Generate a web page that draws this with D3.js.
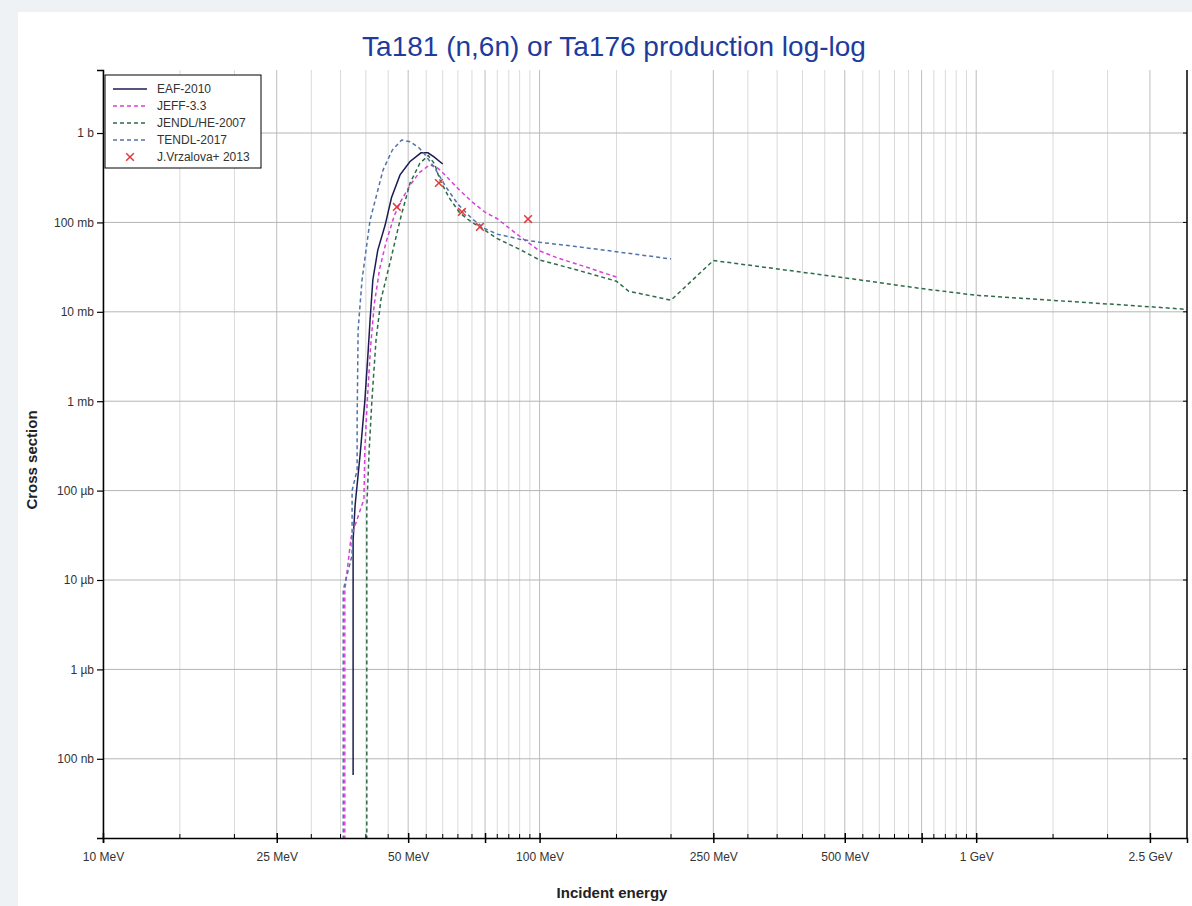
<!DOCTYPE html>
<html>
<head>
<meta charset="utf-8">
<script src="https://cdn.jsdelivr.net/npm/d3@7"></script>
<style>
  body { margin: 0; background: #eef2f5; }
  svg { display: block; font-family: "Liberation Sans", Arial, sans-serif; }
  .axis .tick text { font-size: 12px; fill: #333; }
  .axis-title { font-size: 15px; font-weight: bold; fill: #222; }
  .legend text { font-size: 12px; fill: #333; }
</style>
</head>
<body>
<div id="chart"></div>
<script>
// energies in MeV, cross sections in barn
const eaf2010 = [[37.4,6.6e-8],[37.4,2.8e-5],[37.8,6.9e-5],[38.8,2.5e-4],[39.8,1.03e-3],[40.5,3.7e-3],[40.9,8.1e-3],[41.5,0.0227],[42.6,0.049],[44.3,0.094],[45.8,0.19],[47.9,0.34],[50.5,0.48],[53.5,0.6],[55.5,0.6],[57.3,0.54],[60,0.45]];
const jeff33 = [[35.8,1e-9],[35.8,7.7e-6],[37.0,3e-5],[38.8,6e-5],[39.6,8e-5],[39.8,3e-4],[40.3,1e-3],[41.0,4e-3],[41.8,0.012],[43,0.03],[44.5,0.06],[46.5,0.12],[48,0.17],[50.5,0.26],[53,0.36],[56,0.44],[58,0.42],[60,0.36],[65,0.24],[70,0.17],[75,0.13],[80,0.11],[90,0.07],[100,0.048],[110,0.04],[120,0.035],[135,0.029],[150,0.0245]];
const jendlHe2007 = [[40.2,1e-9],[40.2,6.6e-5],[40.7,2.8e-4],[41.3,1.03e-3],[42.2,4.8e-3],[43.3,0.0136],[45.4,0.035],[47.9,0.106],[50.5,0.276],[53.2,0.46],[55.6,0.56],[57.5,0.45],[59.1,0.3],[62,0.19],[65.7,0.127],[70,0.1],[73,0.089],[80,0.066],[90,0.05],[100,0.038],[120,0.03],[150,0.022],[160,0.017],[200,0.0135],[250,0.0375],[500,0.024],[750,0.0182],[1000,0.0153],[2500,0.0114],[3000,0.0107]];
const tendl2017 = [[35.5,1e-9],[35.5,7.7e-6],[37.2,1.9e-5],[37.2,1e-4],[38.2,1.7e-4],[38.2,6e-4],[38.4,6.3e-3],[39.2,0.0227],[40.9,0.106],[43.8,0.386],[46,0.645],[48.3,0.835],[50.5,0.8],[53,0.68],[55,0.55],[58,0.38],[61,0.25],[65,0.16],[70,0.11],[75,0.085],[80,0.074],[90,0.065],[100,0.06],[120,0.054],[150,0.047],[200,0.039]];
const vrzalova2013 = [[47.1,0.149],[58.8,0.276],[66.4,0.131],[73.0,0.089],[94.1,0.109]];

const xMajor = [10,25,50,75,100,250,500,750,1000,2500];
const xMinor = [15,20,30,35,40,45,55,60,65,70,80,85,90,95,150,200,300,350,400,450,550,600,650,700,800,850,900,950,1500,2000];
const xLabels = {10:"10 MeV",25:"25 MeV",50:"50 MeV",100:"100 MeV",250:"250 MeV",500:"500 MeV",1000:"1 GeV",2500:"2.5 GeV"};
const yTicks = [1e-7,1e-6,1e-5,1e-4,1e-3,1e-2,1e-1,1];
const yLabels = ["100 nb","1 µb","10 µb","100 µb","1 mb","10 mb","100 mb","1 b"];

const series = [
  {name: "EAF-2010", data: eaf2010, color: "#1c1c52", dash: null},
  {name: "JEFF-3.3", data: jeff33, color: "#d940d9", dash: "4,3"},
  {name: "JENDL/HE-2007", data: jendlHe2007, color: "#2f6b4a", dash: "4,3"},
  {name: "TENDL-2017", data: tendl2017, color: "#5373a8", dash: "4,3"}
];

const width = 1192, height = 906;
const plot = {left: 103, right: 1187, top: 70, bottom: 838};

const svg = d3.select("#chart").append("svg")
  .attr("width", width)
  .attr("height", height);

svg.append("rect")
  .attr("x", 18).attr("y", 12)
  .attr("width", width - 18).attr("height", height - 12)
  .attr("fill", "#fff");

const x = d3.scaleLog().domain([10, 3040]).range([plot.left, plot.right]);
const y = d3.scaleLog().domain([1.3e-8, 5.07]).range([plot.bottom, plot.top]);

svg.append("text")
  .attr("x", 614).attr("y", 56)
  .attr("text-anchor", "middle")
  .attr("fill", "#1e3c9c")
  .style("font-size", "28px")
  .text("Ta181 (n,6n) or Ta176 production log-log");

// grid
const grid = svg.append("g").attr("class", "grid");
grid.selectAll(".vminor").data(xMinor).join("line")
  .attr("x1", d => x(d)).attr("x2", d => x(d))
  .attr("y1", plot.top).attr("y2", plot.bottom)
  .attr("stroke", "#dadada").attr("stroke-width", 1);
grid.selectAll(".vmajor").data(xMajor).join("line")
  .attr("x1", d => x(d)).attr("x2", d => x(d))
  .attr("y1", plot.top).attr("y2", plot.bottom)
  .attr("stroke", "#bdbdbd").attr("stroke-width", 1);
grid.selectAll(".hmajor").data(yTicks).join("line")
  .attr("x1", plot.left).attr("x2", plot.right)
  .attr("y1", d => y(d)).attr("y2", d => y(d))
  .attr("stroke", "#b5b5b5").attr("stroke-width", 1);

svg.append("clipPath").attr("id", "clip")
  .append("rect")
  .attr("x", plot.left).attr("y", plot.top)
  .attr("width", plot.right - plot.left).attr("height", plot.bottom - plot.top);

const line = d3.line().x(d => x(d[0])).y(d => y(d[1]));
const curves = svg.append("g").attr("clip-path", "url(#clip)");

series.forEach(s => {
  curves.append("path")
    .datum(s.data)
    .attr("fill", "none")
    .attr("stroke", s.color)
    .attr("stroke-width", 1.5)
    .attr("stroke-dasharray", s.dash)
    .attr("d", line);
});

const cross = d3.symbol().type(d3.symbolX).size(40);
curves.selectAll(".exp").data(vrzalova2013).join("path")
  .attr("transform", d => `translate(${x(d[0])},${y(d[1])})`)
  .attr("d", cross)
  .attr("fill", "none")
  .attr("stroke", "#e03a3a")
  .attr("stroke-width", 1.5);

// axes
const xAxis = d3.axisBottom(x).tickValues(xMajor).tickSize(5)
  .tickFormat(d => xLabels[d] || "").tickPadding(9);
const gx = svg.append("g")
  .attr("class", "axis x")
  .attr("transform", `translate(0,${plot.bottom})`)
  .call(xAxis);
gx.selectAll(".tick line").attr("y1", -5).attr("stroke-width", 1.5);
gx.select(".domain").attr("stroke-width", 1.5);
gx.selectAll(".minor").data(xMinor).join("line")
  .attr("class", "minor")
  .attr("x1", d => x(d)).attr("x2", d => x(d))
  .attr("y1", 0).attr("y2", -4)
  .attr("stroke", "#000");

const yAxis = d3.axisLeft(y).tickValues(yTicks).tickSize(6)
  .tickFormat((d, i) => yLabels[i]).tickPadding(3);
const gy = svg.append("g")
  .attr("class", "axis y")
  .attr("transform", `translate(${plot.left},0)`)
  .call(yAxis);
gy.select(".domain").attr("stroke-width", 1.5);
gy.selectAll(".tick line").attr("stroke-width", 1.2);

// right frame
svg.append("line")
  .attr("x1", plot.right).attr("x2", plot.right)
  .attr("y1", plot.top).attr("y2", plot.bottom)
  .attr("stroke", "#000").attr("stroke-width", 1.5);
svg.selectAll(".rtick").data(yTicks).join("line")
  .attr("x1", plot.right - 4).attr("x2", plot.right)
  .attr("y1", d => y(d)).attr("y2", d => y(d))
  .attr("stroke", "#000");

svg.append("text")
  .attr("class", "axis-title")
  .attr("x", 612).attr("y", 898)
  .attr("text-anchor", "middle")
  .text("Incident energy");
svg.append("text")
  .attr("class", "axis-title")
  .attr("transform", `translate(37,460)rotate(-90)`)
  .attr("text-anchor", "middle")
  .text("Cross section");

// legend
const legend = svg.append("g").attr("class", "legend").attr("transform", "translate(105,75)");
legend.append("rect")
  .attr("width", 156).attr("height", 93)
  .attr("fill", "#fff").attr("stroke", "#000").attr("stroke-width", 1);
const rows = series.concat([{name: "J.Vrzalova+ 2013", marker: true}]);
const item = legend.selectAll(".item").data(rows).join("g")
  .attr("transform", (d, i) => `translate(0,${14 + i * 17})`);
item.filter(d => !d.marker).append("line")
  .attr("x1", 8).attr("x2", 42)
  .attr("stroke", d => d.color)
  .attr("stroke-width", 1.5)
  .attr("stroke-dasharray", d => d.dash);
item.filter(d => d.marker).append("path")
  .attr("transform", "translate(25,0)")
  .attr("d", cross)
  .attr("fill", "none")
  .attr("stroke", "#e03a3a")
  .attr("stroke-width", 1.5);
item.append("text")
  .attr("x", 52).attr("dy", "0.35em")
  .text(d => d.name);
</script>
</body>
</html>
